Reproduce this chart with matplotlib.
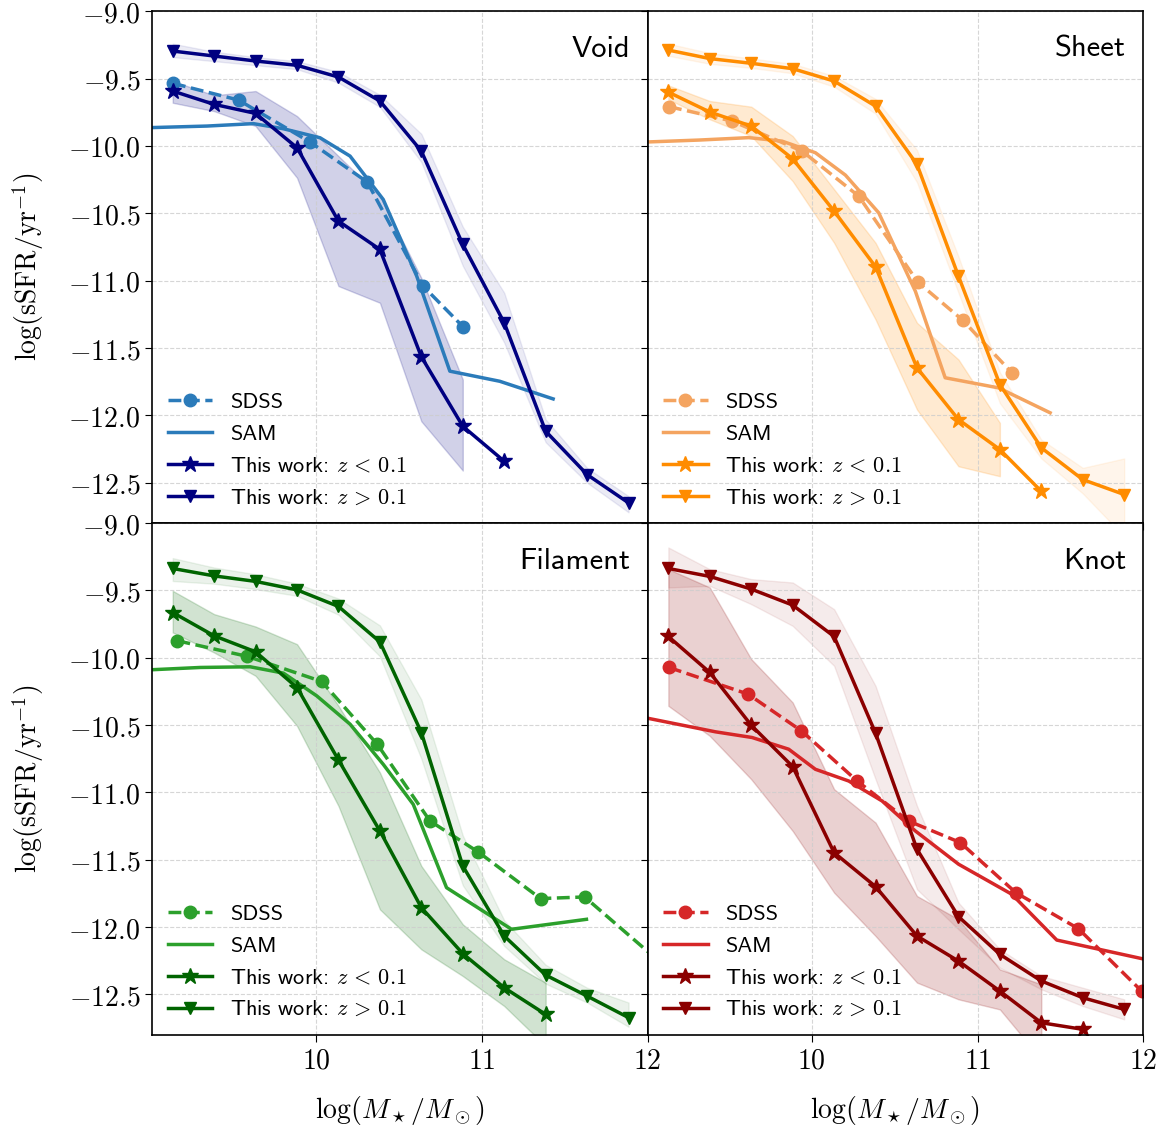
import numpy as np
import matplotlib
matplotlib.use("Agg")
import matplotlib.pyplot as plt
from matplotlib.ticker import FuncFormatter

plt.rcParams['mathtext.fontset'] = 'cm'

# stellar mass bins used by "This work"
mass_bins = [9.135, 9.385, 9.635, 9.885, 10.135, 10.385, 10.635, 10.885, 11.135, 11.385, 11.635, 11.885]

# ---- Void
void_sdss_x = [9.137, 9.532, 9.964, 10.309, 10.646, 10.887]
void_sdss_y = [-9.535, -9.659, -9.971, -10.268, -11.041, -11.343]
void_sam_x = [8.99, 9.342, 9.622, 9.803, 10.024, 10.205, 10.405, 10.607, 10.807, 11.108, 11.43]
void_sam_y = [-9.864, -9.852, -9.834, -9.872, -9.939, -10.075, -10.397, -10.966, -11.672, -11.747, -11.878]
void_lo_y = [-9.592, -9.691, -9.758, -10.013, -10.558, -10.768, -11.565, -12.081, -12.341]
void_lo_up = [-9.518, -9.624, -9.592, -9.778, -10.075, -10.372, -10.98, -11.734]
void_lo_dn = [-9.679, -9.741, -9.852, -10.236, -11.04, -11.164, -12.044, -12.41]
void_hi_y = [-9.295, -9.332, -9.369, -9.401, -9.488, -9.666, -10.038, -10.731, -11.313, -12.118, -12.44, -12.65]
void_hi_up = [-9.24, -9.30, -9.34, -9.37, -9.45, -9.62, -9.91, -10.60, -11.09, -12.03, -12.39, -12.60]
void_hi_dn = [-9.34, -9.37, -9.40, -9.43, -9.53, -9.71, -10.12, -10.89, -11.46, -12.20, -12.50, -12.72]

# ---- Sheet
sheet_sdss_x = [9.139, 9.52, 9.942, 10.283, 10.64, 10.91, 11.211]
sheet_sdss_y = [-9.708, -9.815, -10.038, -10.372, -11.011, -11.293, -11.689]
sheet_sam_x = [8.99, 9.319, 9.62, 9.821, 10.022, 10.203, 10.404, 10.625, 10.805, 11.127, 11.438]
sheet_sam_y = [-9.971, -9.956, -9.938, -9.964, -10.05, -10.216, -10.496, -11.078, -11.721, -11.796, -11.981]
sheet_lo_y = [-9.6, -9.748, -9.852, -10.095, -10.484, -10.897, -11.647, -12.031, -12.254, -12.564]
sheet_lo_up = [-9.55, -9.666, -9.708, -9.926, -10.322, -10.719, -11.313, -11.585, -12.056]
sheet_lo_dn = [-9.654, -9.802, -9.926, -10.261, -10.719, -11.288, -11.957, -12.378, -12.452]
sheet_hi_y = [-9.288, -9.351, -9.386, -9.426, -9.518, -9.704, -10.137, -10.966, -11.771, -12.241, -12.477, -12.588]
sheet_hi_up = [-9.24, -9.31, -9.35, -9.39, -9.48, -9.65, -10.03, -10.82, -11.68, -12.18, -12.39, -12.32]
sheet_hi_dn = [-9.33, -9.39, -9.42, -9.46, -9.56, -9.76, -10.27, -11.09, -11.91, -12.32, -12.58, -12.90]

# ---- Filament
fil_sdss_x = [9.164, 9.586, 10.034, 10.369, 10.687, 10.978, 11.354, 11.62, 12.15]
fil_sdss_y = [-9.874, -9.99, -10.176, -10.642, -11.212, -11.442, -11.788, -11.776, -12.34]
fil_sam_x = [8.99, 9.301, 9.602, 9.803, 10.004, 10.205, 10.405, 10.586, 10.787, 11.179, 11.631]
fil_sam_y = [-10.09, -10.072, -10.067, -10.114, -10.283, -10.493, -10.791, -11.088, -11.707, -12.016, -11.942]
fil_lo_y = [-9.664, -9.837, -9.956, -10.221, -10.759, -11.286, -11.855, -12.197, -12.45, -12.648]
fil_lo_up = [-9.503, -9.676, -9.768, -9.899, -10.357, -10.852, -11.546, -11.979, -12.239, -12.413]
fil_lo_dn = [-9.812, -9.961, -10.134, -10.506, -11.1, -11.868, -12.165, -12.363, -12.586, -12.883]
fil_hi_y = [-9.337, -9.392, -9.433, -9.496, -9.619, -9.882, -10.555, -11.546, -12.066, -12.356, -12.512, -12.672]
fil_hi_up = [-9.26, -9.33, -9.38, -9.45, -9.56, -9.76, -10.31, -11.32, -11.95, -12.28, -12.45, -12.56]
fil_hi_dn = [-9.43, -9.45, -9.49, -9.54, -9.68, -9.99, -10.75, -11.69, -12.14, -12.42, -12.56, -12.74]

# ---- Knot
knot_sdss_x = [9.139, 9.616, 9.938, 10.273, 10.584, 10.896, 11.231, 11.608, 11.99]
knot_sdss_y = [-10.072, -10.27, -10.543, -10.914, -11.212, -11.372, -11.744, -12.011, -12.475]
knot_sam_x = [8.99, 9.42, 9.64, 9.861, 10.022, 10.223, 10.424, 10.625, 10.886, 11.207, 11.478, 12.01]
knot_sam_y = [-10.444, -10.55, -10.592, -10.679, -10.828, -10.915, -11.063, -11.286, -11.533, -11.756, -12.096, -12.239]
knot_lo_y = [-9.842, -10.109, -10.501, -10.808, -11.447, -11.699, -12.066, -12.252, -12.475, -12.71, -12.759]
knot_lo_up = [-9.342, -9.478, -10.01, -10.332, -10.976, -11.224, -11.769, -11.942, -12.314, -12.425]
knot_lo_dn = [-10.357, -10.58, -10.902, -11.286, -11.744, -12.066, -12.412, -12.536, -12.611, -12.982]
knot_hi_y = [-9.337, -9.396, -9.49, -9.609, -9.842, -10.56, -11.422, -11.922, -12.202, -12.4, -12.524, -12.611]
knot_hi_up = [-9.181, -9.342, -9.416, -9.441, -9.639, -10.209, -11.1, -11.818, -12.165, -12.363, -12.45, -12.536]
knot_hi_dn = [-9.478, -9.466, -9.602, -9.763, -10.06, -10.902, -11.719, -12.016, -12.301, -12.462, -12.586, -12.685]

panels = [
    ("Void", '#2b7bba', 'navy',
     void_sdss_x, void_sdss_y, void_sam_x, void_sam_y,
     void_lo_y, void_lo_up, void_lo_dn, void_hi_y, void_hi_up, void_hi_dn),
    ("Sheet", '#f4a460', 'darkorange',
     sheet_sdss_x, sheet_sdss_y, sheet_sam_x, sheet_sam_y,
     sheet_lo_y, sheet_lo_up, sheet_lo_dn, sheet_hi_y, sheet_hi_up, sheet_hi_dn),
    ("Filament", '#2ca02c', 'darkgreen',
     fil_sdss_x, fil_sdss_y, fil_sam_x, fil_sam_y,
     fil_lo_y, fil_lo_up, fil_lo_dn, fil_hi_y, fil_hi_up, fil_hi_dn),
    ("Knot", '#d62728', 'darkred',
     knot_sdss_x, knot_sdss_y, knot_sam_x, knot_sam_y,
     knot_lo_y, knot_lo_up, knot_lo_dn, knot_hi_y, knot_hi_up, knot_hi_dn),
]

fig, axes = plt.subplots(2, 2, figsize=(11.69, 11.31), dpi=100, sharex=True, sharey=True)
fig.subplots_adjust(left=0.130, right=0.978, top=0.990, bottom=0.085, wspace=0, hspace=0)

for ax, p in zip(axes.flat, panels):
    name, c_obs, c_this, sx, sy, mx, my, lo_y, lo_up, lo_dn, hi_y, hi_up, hi_dn = p

    ax.fill_between(mass_bins[:len(hi_up)], hi_dn, hi_up, color=c_this, alpha=0.08)
    ax.fill_between(mass_bins[:len(lo_up)], lo_dn, lo_up, color=c_this, alpha=0.18)

    ax.plot(sx, sy, '--o', color=c_obs, lw=2.5, ms=9, label='SDSS')
    ax.plot(mx, my, '-', color=c_obs, lw=2.5, label='SAM')
    ax.plot(mass_bins[:len(lo_y)], lo_y, '-*', color=c_this, lw=2.5, ms=12,
            label=r'This work: $z\,<\,0.1$')
    ax.plot(mass_bins[:len(hi_y)], hi_y, '-v', color=c_this, lw=2.5, ms=9,
            label=r'This work: $z\,>\,0.1$')

    ax.text(0.965, 0.952, name, transform=ax.transAxes, ha='right', va='top',
            fontsize=22, family='cmss10')
    ax.legend(loc='lower left', frameon=False, prop={'family': 'cmss10', 'size': 16},
              labelspacing=0.55, handlelength=2.0, borderaxespad=0.3)

    ax.grid(True, ls='--', color='#cccccc', lw=0.8, alpha=0.8)
    ax.set_xlim(9.01, 12.0)
    ax.set_ylim(-12.8, -9.0)
    ax.set_xticks([10, 11, 12])
    ax.set_yticks([-9.0, -9.5, -10.0, -10.5, -11.0, -11.5, -12.0, -12.5])
    ax.xaxis.set_major_formatter(FuncFormatter(lambda v, pos: r'$%d$' % v))
    ax.yaxis.set_major_formatter(FuncFormatter(lambda v, pos: r'$%.1f$' % v))
    ax.tick_params(labelsize=20, length=5)
    for s in ax.spines.values():
        s.set_linewidth(1.2)

for ax in axes[1]:
    ax.set_xlabel(r'$\log(M_\star/M_\odot)$', fontsize=20, labelpad=14)
for ax in axes[:, 0]:
    ax.set_ylabel(r'$\log(\mathrm{sSFR/yr^{-1}})$', fontsize=20, labelpad=16)
for ax in axes[:, 1]:
    ax.tick_params(labelleft=False)
for ax in axes[:, 0]:
    ax.tick_params(labelleft=True)

plt.savefig('out.png', dpi=100)
